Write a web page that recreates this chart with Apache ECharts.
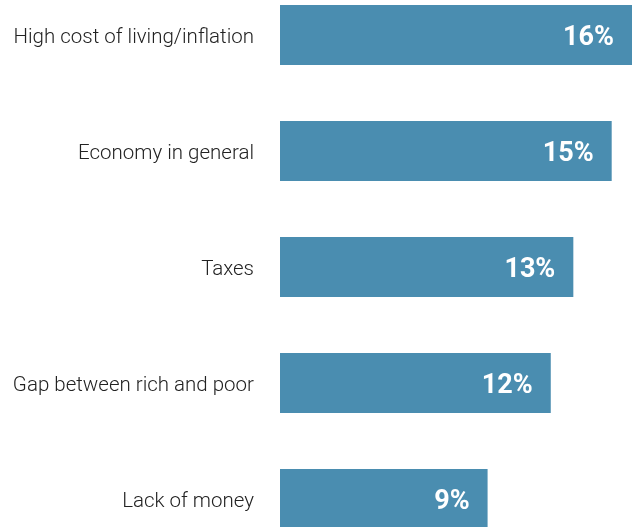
<!DOCTYPE html>
<html>
<head>
<meta charset="utf-8">
<style>
  html, body { margin: 0; padding: 0; background: #fff; overflow: hidden; width: 632px; height: 527px; }
  #chart { position: absolute; left: 0; top: -23px; width: 632px; height: 580px; }
</style>
<script src="https://cdn.jsdelivr.net/npm/echarts@6/dist/echarts.min.js"></script>
</head>
<body>
<div id="chart"></div>
<script>
// Most important problems named by respondents (share, %)
const categories = [
  'High cost of living/inflation',
  'Economy in general',
  'Taxes',
  'Gap between rich and poor',
  'Lack of money'
];
const shares = [15.6, 14.7, 13.0, 12.0, 9.2];

const chart = echarts.init(document.getElementById('chart'), null, { renderer: 'canvas' });

const labelFont = {
  color: '#222222',
  fontFamily: 'Roboto',
  fontWeight: 300,
  fontSize: 20.5
};

chart.setOption({
  animation: false,
  backgroundColor: '#ffffff',
  grid: { left: 280, right: 0, top: 0, bottom: 0 },
  xAxis: {
    type: 'value',
    min: 0,
    max: 15.6,
    show: false
  },
  yAxis: {
    type: 'category',
    data: categories,
    inverse: true,
    axisLine: { show: false },
    axisTick: { show: false },
    splitLine: { show: false },
    axisLabel: Object.assign({
      margin: 26,
      formatter: v => '{t|' + v + '}',
      rich: {
        t: Object.assign({ padding: [5, 0, 0, 0] }, labelFont)
      }
    }, labelFont)
  },
  series: [{
    type: 'bar',
    data: shares,
    barWidth: 60,
    itemStyle: { color: '#4a8db0' },
    label: {
      show: true,
      position: 'insideRight',
      distance: 18,
      offset: [0, 3],
      color: '#ffffff',
      fontFamily: 'Roboto',
      fontWeight: 700,
      fontSize: 27,
      formatter: p => Math.round(p.value) + '%'
    }
  }]
});
</script>
</body>
</html>
